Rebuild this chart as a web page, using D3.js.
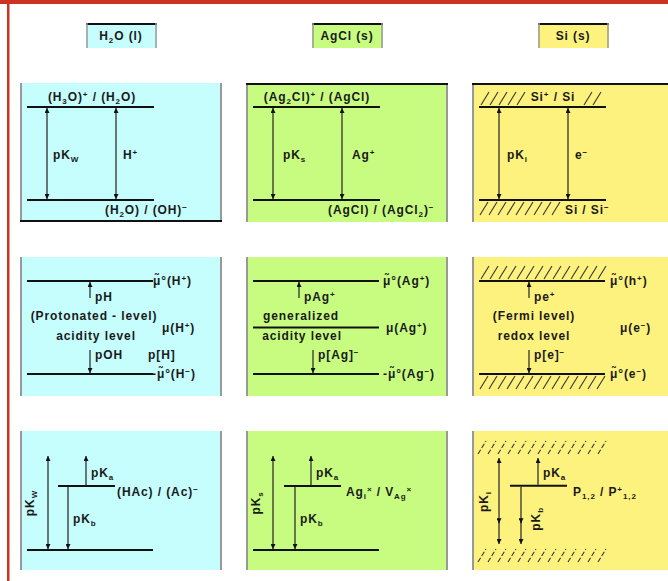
<!DOCTYPE html>
<html>
<head>
<meta charset="utf-8">
<script src="https://cdn.jsdelivr.net/npm/d3@7"></script>
<style>
  body { margin: 0; background: #fff; }
  text { font-family: "Liberation Sans", Arial, sans-serif; font-size: 12px; font-weight: bold; fill: #1a1a1a; letter-spacing: 0.9px; }
</style>
</head>
<body>
<svg id="chart"></svg>
<script>
var width = 668, height = 581;

// column headers (one column per material)
const materials = ["H_2O (l)", "AgCl (s)", "Si (s)"];
const fills = ["#c6fdfd", "#c8fc80", "#fdf27e"];
const hatched = [false, false, true];

// row 1 : donor / acceptor pairs
const pairLevels = [1, 0];
const pairUpper = ["(H_3O)^+ / (H_2O)", "(Ag_2Cl)^+ / (AgCl)", "Si^+ / Si"];
const pairLower = ["(H_2O) / (OH)^−", "(AgCl) / (AgCl_2)^−", "Si / Si^−"];
const gapLabel = ["pK_W", "pK_s", "pK_i"];
const carrier = ["H^+", "Ag^+", "e^−"];

// row 2 : chemical potential levels
const stateLevels = [1, 0.5, 0];
const upperState = ["μ̃°(H^+)", "μ̃°(Ag^+)", "μ̃°(h^+)"];
const midState = ["μ(H^+)", "μ(Ag^+)", "μ(e^−)"];
const lowerState = ["-μ̃°(H^−)", "-μ̃°(Ag^−)", "μ̃°(e^−)"];
const upArrow = ["pH", "pAg^+", "pe^+"];
const downArrow = ["pOH", "p[Ag]^−", "p[e]^−"];
const sideNote = ["p[H]", "", ""];
const levelName = [["(Protonated - level)", "acidity level"], ["generalized", "acidity level"], ["(Fermi level)", "redox level"]];
const midLine = [false, true, false];

// row 3 : a dissolved couple inside the gap
const ladderLevels = [1, 0.68, 0];
const coupleLabel = ["(HAc) / (Ac)^−", "Ag_i^× / V_{Ag}^×", "P_{1,2} / P^+_{1,2}"];
const totalK = ["pK_W", "pK_s", "pK_i"];
const acidK = ["pK_a", "pK_a", "pK_a"];
const baseK = ["pK_b", "pK_b", "pK_b"];

const colX = d3.scaleLinear().domain([0, 1]).range([20, 246]);
const rowY = d3.scaleLinear().domain([0, 1]).range([83, 257]);
const panelW = 202, panelH = 139;
const y12 = d3.scaleLinear().domain([0, 1]).range([117, 24]);
const y3 = d3.scaleLinear().domain([0, 1]).range([119, 25]);
const y3h = d3.scaleLinear().domain([0, 1]).range([114, 27]);

const svg = d3.select('#chart').attr('width', width).attr('height', height);

svg.append('defs').append('marker')
    .attr('id', 'ah')
    .attr('viewBox', '0 0 6 6')
    .attr('refX', 6).attr('refY', 3)
    .attr('markerWidth', 5).attr('markerHeight', 5)
    .attr('markerUnits', 'userSpaceOnUse')
    .attr('orient', 'auto-start-reverse')
    .append('path').attr('d', 'M0,0L6,3L0,6Z').attr('fill', '#111');

// text with _sub and ^sup ( _{..} for longer ones )
function rich(sel, str) {
    const parts = str.match(/[_^](\{[^}]*\}|.)|[^_^]+/g);
    parts.forEach(p => {
        if (p[0] == '_' || p[0] == '^') {
            let t = p.slice(1);
            if (t[0] == '{') t = t.slice(1, -1);
            sel.append('tspan')
                .attr('font-size', '8px')
                .attr('baseline-shift', p[0] == '_' ? '-3' : '4')
                .text(t);
        } else {
            sel.append('tspan').text(p);
        }
    });
    return sel;
}

function label(g, x, y, str, anchor) {
    return rich(g.append('text').attr('x', x).attr('y', y).attr('text-anchor', anchor || 'start'), str);
}

function level(g, x0, x1, y) {
    g.append('line').attr('x1', x0).attr('x2', x1).attr('y1', y).attr('y2', y)
        .attr('stroke', '#111').attr('stroke-width', 2);
}

function arrow(g, x, yFrom, yTo, both) {
    const l = g.append('line').attr('x1', x).attr('x2', x).attr('y1', yFrom).attr('y2', yTo)
        .attr('stroke', '#222').attr('stroke-width', 1.2)
        .attr('marker-end', 'url(#ah)');
    if (both) l.attr('marker-start', 'url(#ah)');
}

function hatch(g, x0, x1, y, side, dashed) {
    const h = 14, dx = 8;
    g.append('g').selectAll('line')
        .data(d3.range(x0, x1 - dx + 1, dashed ? 10 : 9))
        .join('line')
        .attr('x1', d => d).attr('x2', d => d + dx)
        .attr('y1', side == 'above' ? y - 2 : y + h + 1)
        .attr('y2', side == 'above' ? y - h - 1 : y + 2)
        .attr('stroke', '#333').attr('stroke-width', 1.1)
        .attr('stroke-dasharray', dashed ? '5,2' : null);
}

// red frame
svg.append('rect').attr('x', 0).attr('y', 0).attr('width', width).attr('height', 4).attr('fill', '#cc3322');
svg.append('rect').attr('x', 7).attr('y', 0).attr('width', 2.5).attr('height', height).attr('fill', '#cc3322');

// headers
materials.forEach((m, c) => {
    const g = svg.append('g').attr('transform', 'translate(' + colX(c) + ',0)');
    g.append('rect').attr('x', 66).attr('y', 23).attr('width', 71).attr('height', 25).attr('fill', fills[c]);
    g.append('line').attr('x1', 66).attr('x2', 137).attr('y1', 24).attr('y2', 24).attr('stroke', '#111').attr('stroke-width', 2);
    g.append('line').attr('x1', 67).attr('x2', 67).attr('y1', 23).attr('y2', 48).attr('stroke', '#999').attr('stroke-width', 1.5);
    g.append('line').attr('x1', 136).attr('x2', 136).attr('y1', 23).attr('y2', 48).attr('stroke', '#999').attr('stroke-width', 1.5);
    label(g, 101, 40, m, 'middle');
});

function panel(c, r) {
    const g = svg.append('g').attr('transform', 'translate(' + colX(c) + ',' + rowY(r) + ')');
    g.append('rect').attr('width', panelW).attr('height', panelH).attr('fill', fills[c]);
    g.append('line').attr('x1', 1).attr('x2', 1).attr('y1', 0).attr('y2', panelH).attr('stroke', '#999').attr('stroke-width', 2);
    g.append('line').attr('x1', panelW - 1).attr('x2', panelW - 1).attr('y1', 0).attr('y2', panelH).attr('stroke', '#999').attr('stroke-width', 2);
    return g;
}

// row 1
materials.forEach((m, c) => {
    const g = panel(c, 0);
    if (c > 0) level(g, 0, panelW, 1);
    else level(g, 0, panelW, panelH - 1);
    const top = y12(pairLevels[0]), bot = y12(pairLevels[1]);
    level(g, 7, 134, top);
    level(g, 7, 134, bot);
    arrow(g, 27, top + 1, bot - 1, true);
    arrow(g, 96, top + 1, bot - 1, true);
    if (hatched[c]) {
        hatch(g, 9, 56, top, 'above');
        hatch(g, 112, 136, top, 'above');
        hatch(g, 8, 92, bot, 'below');
    }
    label(g, [72, 71, 81][c], top - 6, pairUpper[c], 'middle');
    label(g, [85, 82, 93][c], bot + 14, pairLower[c]);
    label(g, [33, 37, 35][c], 76, gapLabel[c]);
    label(g, [103, 106, 103][c], 76, carrier[c]);
});

// row 2
materials.forEach((m, c) => {
    const g = panel(c, 1);
    const top = y12(stateLevels[0]), mid = y12(stateLevels[1]), bot = y12(stateLevels[2]);
    level(g, 7, 133, top);
    level(g, 7, 133, bot);
    if (midLine[c]) level(g, 7, 133, mid);
    if (hatched[c]) {
        hatch(g, 9, 134, top, 'above');
        hatch(g, 8, 134, bot, 'below');
    }
    const ua = [70, 53, 57][c], da = [70, 67, 57][c];
    arrow(g, ua, top + 17, top + 1);
    arrow(g, da, bot - 24, bot - 1);
    label(g, ua + 5, top + 20, upArrow[c]);
    label(g, da + 5, bot - 15, downArrow[c]);
    if (sideNote[c]) label(g, 128, bot - 15, sideNote[c]);
    label(g, [74, 55, 62][c], mid - 8, levelName[c][0], 'middle');
    label(g, [76, 56, 62][c], mid + 12, levelName[c][1], 'middle');
    label(g, [133, 137, 138][c], top + 4, upperState[c]);
    label(g, [142, 140, 148][c], mid + 4, midState[c]);
    label(g, [132, 137, 138][c], bot + 4, lowerState[c]);
});

// row 3
materials.forEach((m, c) => {
    const g = panel(c, 2);
    const ys = hatched[c] ? y3h : y3;
    const top = ys(ladderLevels[0]), mid = ys(ladderLevels[1]), bot = ys(ladderLevels[2]);
    const lx = [28, 27, 27][c], ux = [66, 65, 66][c], dx = [48, 49, 49][c];
    if (hatched[c]) {
        hatch(g, 6, 134, top - 2, 'above', true);
        hatch(g, 6, 134, bot + 2, 'below', true);
    } else {
        level(g, 7, 133, bot);
    }
    level(g, 38, 95, mid);
    arrow(g, lx, bot - 1, top, true);
    arrow(g, ux, mid - 1, top);
    arrow(g, dx, mid + 1, bot - 1);
    if (hatched[c]) {
        arrow(g, lx, ys(0.25) - 5, ys(0.25));
        arrow(g, dx, ys(0.25) - 5, ys(0.25));
    }
    g.append('text').attr('transform', 'translate(' + [14, 14, 16][c] + ',' + ((top + bot) / 2) + ') rotate(-90)')
        .attr('text-anchor', 'middle').call(s => rich(s, totalK[c]));
    label(g, ux + 5, mid - 9, acidK[c]);
    if (hatched[c]) {
        g.append('text').attr('transform', 'translate(' + (dx + 19) + ',' + (mid + 33) + ') rotate(-90)')
            .attr('text-anchor', 'middle').call(s => rich(s, baseK[c]));
    } else {
        label(g, dx + 5, mid + 37, baseK[c]);
    }
    label(g, [97, 100, 101][c], mid + 10, coupleLabel[c]);
});
</script>
</body>
</html>
